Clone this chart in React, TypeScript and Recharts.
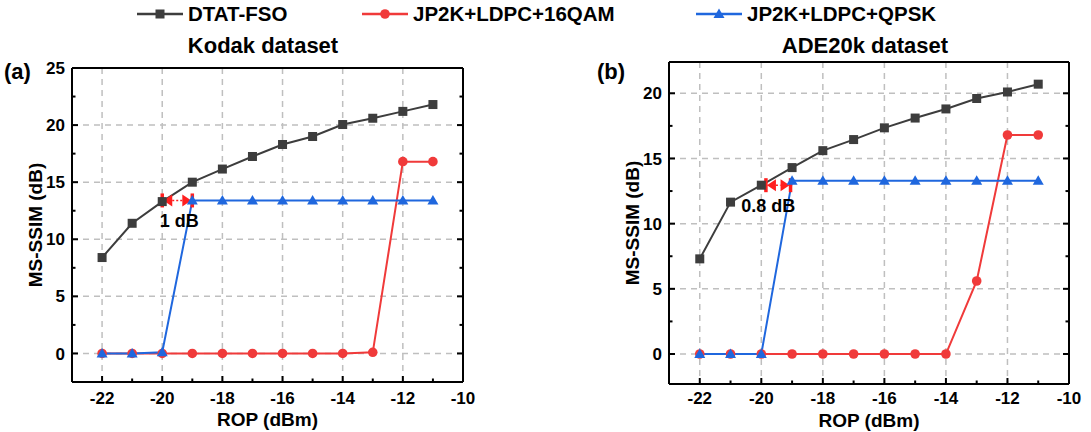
import React from 'react';
import { LineChart, Line, XAxis, YAxis, CartesianGrid, ReferenceLine, Legend } from 'recharts';

// ROP values (dBm) shared by both panels
const rop = [-22, -21, -20, -19, -18, -17, -16, -15, -14, -13, -12, -11];

// Kodak dataset, MS-SSIM (dB)
const kodakDtat = [8.4, 11.4, 13.3, 15.0, 16.15, 17.25, 18.3, 19.0, 20.05, 20.6, 21.2, 21.8];
const kodak16qam = [0, 0, 0, 0, 0, 0, 0, 0, 0, 0.1, 16.8, 16.8];
const kodakQpsk = [0, 0, 0.1, 13.4, 13.4, 13.4, 13.4, 13.4, 13.4, 13.4, 13.4, 13.4];

// ADE20k dataset, MS-SSIM (dB)
const adeDtat = [7.3, 11.65, 12.95, 14.3, 15.6, 16.45, 17.35, 18.1, 18.8, 19.6, 20.1, 20.7];
const ade16qam = [0, 0, 0, 0, 0, 0, 0, 0, 0, 5.6, 16.8, 16.8];
const adeQpsk = [0, 0, 0, 13.3, 13.3, 13.3, 13.3, 13.3, 13.3, 13.3, 13.3, 13.3];

// ticks
const xTicks = [-22, -21, -20, -19, -18, -17, -16, -15, -14, -13, -12, -11, -10];
const xGrid = [-22, -20, -18, -16, -14, -12];
const kodakYTicks = [0, 2.5, 5, 7.5, 10, 12.5, 15, 17.5, 20, 22.5, 25];
const kodakYGrid = [0, 5, 10, 15, 20];
const adeYTicks = [0, 2.5, 5, 7.5, 10, 12.5, 15, 17.5, 20];
const adeYGrid = [0, 5, 10, 15, 20];

const seriesNames = ['DTAT-FSO', 'JP2K+LDPC+16QAM', 'JP2K+LDPC+QPSK'];
const seriesKeys = ['dtat', 'qam', 'qpsk'];
const seriesColors = ['#3d3d3d', '#f03a3a', '#1f67de'];
const seriesMarkers = ['square', 'circle', 'triangle'];

const FONT = '"Liberation Sans", Arial, Helvetica, sans-serif';

const kodakRows = rop.map((x, i) => ({ rop: x, dtat: kodakDtat[i], qam: kodak16qam[i], qpsk: kodakQpsk[i] }));
const adeRows = rop.map((x, i) => ({ rop: x, dtat: adeDtat[i], qam: ade16qam[i], qpsk: adeQpsk[i] }));

function marker(type: string, cx: number, cy: number, color: string, key?: any) {
  if (type === 'square') {
    return <rect key={key} x={cx - 4.5} y={cy - 4.5} width={9} height={9} fill={color} />;
  }
  if (type === 'circle') {
    return <circle key={key} cx={cx} cy={cy} r={4.8} fill={color} />;
  }
  return (
    <polygon
      key={key}
      points={`${cx},${cy - 5.5} ${cx + 5.5},${cy + 4} ${cx - 5.5},${cy + 4}`}
      fill={color}
    />
  );
}

const tickText = { fontFamily: FONT, fontSize: 17, fontWeight: 700, fill: '#000' };

const makeBottomTick = (labelDy: number) => (p: any) => {
  const v = p.payload.value;
  const major = v % 2 === 0;
  return (
    <g>
      <line x1={p.x} y1={p.y} x2={p.x} y2={p.y - (major ? 6 : 3.5)} stroke="#000" strokeWidth={2} />
      {major && (
        <text x={p.x} y={p.y + labelDy} textAnchor="middle" style={tickText}>
          {v}
        </text>
      )}
    </g>
  );
};

const TopTick = (p: any) => {
  const v = p.payload.value;
  const major = v % 2 === 0;
  return <line x1={p.x} y1={p.y} x2={p.x} y2={p.y + (major ? 6 : 3.5)} stroke="#000" strokeWidth={2} />;
};

const LeftTick = (p: any) => {
  const v = p.payload.value;
  const major = v % 5 === 0;
  return (
    <g>
      <line x1={p.x} y1={p.y} x2={p.x + (major ? 6 : 3.5)} y2={p.y} stroke="#000" strokeWidth={2} />
      {major && (
        <text x={p.x - 7} y={p.y} dy="0.36em" textAnchor="end" style={tickText}>
          {v}
        </text>
      )}
    </g>
  );
};

const RightTick = (p: any) => {
  const v = p.payload.value;
  const major = v % 5 === 0;
  return <line x1={p.x} y1={p.y} x2={p.x - (major ? 6 : 3.5)} y2={p.y} stroke="#000" strokeWidth={2} />;
};

const arrowShape = (text: string, dx: number) => (p: any) => {
  const x1 = Number(p.x1);
  const x2 = Number(p.x2);
  const y = Number(p.y1);
  const red = '#ff1f1f';
  return (
    <g>
      <line x1={x1} y1={y - 7} x2={x1} y2={y + 7} stroke={red} strokeWidth={3.5} />
      <line x1={x2} y1={y - 7} x2={x2} y2={y + 7} stroke={red} strokeWidth={3.5} />
      <polygon points={`${x1 + 1},${y} ${x1 + 10},${y - 6} ${x1 + 10},${y + 6}`} fill={red} />
      <polygon points={`${x2 - 1},${y} ${x2 - 10},${y - 6} ${x2 - 10},${y + 6}`} fill={red} />
      <line x1={x1 + 10} y1={y} x2={x2 - 10} y2={y} stroke={red} strokeWidth={1.5} strokeDasharray="2 2" />
      <text
        x={(x1 + x2) / 2 + dx}
        y={y + 20}
        dy="0.36em"
        textAnchor="middle"
        style={{ fontFamily: FONT, fontSize: 18, fontWeight: 700, fill: '#000' }}
      >
        {text}
      </text>
    </g>
  );
};

const legendItemWidths = [225, 334, 260];

const renderLegend = (props: any) => {
  const payload = props.payload || [];
  return (
    <div style={{ display: 'flex', paddingLeft: 137, height: 28, alignItems: 'center' }}>
      {payload.map((e: any, i: number) => {
        const idx = seriesNames.indexOf(e.value);
        return (
          <div key={e.value} style={{ width: legendItemWidths[i], display: 'flex', alignItems: 'center' }}>
            <svg width={48} height={16} style={{ marginRight: 3 }}>
              <line x1={0} y1={8} x2={46} y2={8} stroke={seriesColors[idx]} strokeWidth={2.5} />
              {marker(seriesMarkers[idx], 23, 8, seriesColors[idx])}
            </svg>
            <span style={{ fontFamily: FONT, fontSize: 20.5, fontWeight: 700, color: '#000' }}>{e.value}</span>
          </div>
        );
      })}
    </div>
  );
};

interface PanelProps {
  rows: any[];
  width: number;
  margin: { top: number; right: number; bottom: number; left: number };
  xHeight: number;
  xLabelOffset: number;
  xTickDy: number;
  yDomain: number[];
  yTicks: number[];
  yGrid: number[];
  ann: { x1: number; x2: number; y: number; text: string; dx: number };
  showLegend?: boolean;
}

function Panel({ rows, width, margin, xHeight, xLabelOffset, xTickDy, yDomain, yTicks, yGrid, ann, showLegend }: PanelProps) {
  const axisLine = { stroke: '#000', strokeWidth: 2 };
  const labelStyle = { fontFamily: FONT, fontSize: 19, fontWeight: 700, fill: '#000' };
  return (
    <LineChart width={width} height={432} data={rows} margin={margin}>
      <CartesianGrid
        stroke="#bfbfbf"
        strokeWidth={1.5}
        strokeDasharray="6 5"
        verticalValues={xGrid}
        horizontalValues={yGrid}
      />
      <XAxis
        dataKey="rop"
        type="number"
        domain={[-23, -10]}
        allowDataOverflow
        ticks={xTicks}
        interval={0}
        tickSize={0}
        tickMargin={0}
        tickLine={false}
        axisLine={axisLine}
        tick={makeBottomTick(xTickDy)}
        height={xHeight}
        label={{ value: 'ROP (dBm)', position: 'insideBottom', offset: xLabelOffset, style: labelStyle }}
      />
      <XAxis
        xAxisId="top"
        orientation="top"
        type="number"
        domain={[-23, -10]}
        allowDataOverflow
        ticks={xTicks}
        interval={0}
        tickSize={0}
        tickMargin={0}
        tickLine={false}
        axisLine={axisLine}
        tick={TopTick}
        height={1}
      />
      <YAxis
        type="number"
        domain={yDomain}
        allowDataOverflow
        ticks={yTicks}
        interval={0}
        tickSize={0}
        tickMargin={0}
        tickLine={false}
        axisLine={axisLine}
        tick={LeftTick}
        width={60}
        label={{
          value: 'MS-SSIM (dB)',
          angle: -90,
          position: 'insideLeft',
          offset: 23,
          style: { ...labelStyle, textAnchor: 'middle' },
        }}
      />
      <YAxis
        yAxisId="right"
        orientation="right"
        type="number"
        domain={yDomain}
        allowDataOverflow
        ticks={yTicks}
        interval={0}
        tickSize={0}
        tickMargin={0}
        tickLine={false}
        axisLine={axisLine}
        tick={RightTick}
        width={1}
      />
      {seriesKeys.map((k, i) => (
        <Line
          key={k}
          dataKey={k}
          name={seriesNames[i]}
          stroke={seriesColors[i]}
          strokeWidth={2}
          type="linear"
          isAnimationActive={false}
          dot={(p: any) => marker(seriesMarkers[i], p.cx, p.cy, seriesColors[i], p.index)}
          activeDot={false}
        />
      ))}
      <ReferenceLine
        segment={[
          { x: ann.x1, y: ann.y },
          { x: ann.x2, y: ann.y },
        ]}
        stroke="#ff1f1f"
        shape={arrowShape(ann.text, ann.dx)}
      />
      {showLegend && (
        <Legend
          layout="horizontal"
          verticalAlign="middle"
          align="center"
          content={renderLegend}
          wrapperStyle={{ left: 0, top: 0, width: 1091, height: 28 }}
        />
      )}
    </LineChart>
  );
}

const titleStyle: React.CSSProperties = {
  position: 'absolute',
  fontFamily: FONT,
  fontSize: 22,
  fontWeight: 700,
  color: '#000',
  whiteSpace: 'nowrap',
  lineHeight: '26px',
};

export default function App() {
  return (
    <div style={{ position: 'absolute', left: 0, top: 0, width: 1091, height: 432, background: '#fff' }}>
      <div style={{ position: 'absolute', left: 0, top: 0 }}>
        <Panel
          rows={kodakRows}
          width={545}
          margin={{ top: 67, right: 81, bottom: 0, left: 12 }}
          xHeight={50}
          xLabelOffset={6}
          xTickDy={22}
          yDomain={[-2.5, 25]}
          yTicks={kodakYTicks}
          yGrid={kodakYGrid}
          ann={{ x1: -20, x2: -19, y: 13.4, text: '1 dB', dx: 2 }}
          showLegend
        />
      </div>
      <div style={{ position: 'absolute', left: 545, top: 0 }}>
        <Panel
          rows={adeRows}
          width={546}
          margin={{ top: 61, right: 21, bottom: 0, left: 64 }}
          xHeight={48}
          xLabelOffset={5}
          xTickDy={20}
          yDomain={[-2.3, 22.4]}
          yTicks={adeYTicks}
          yGrid={adeYGrid}
          ann={{ x1: -19.85, x2: -19.05, y: 12.95, text: '0.8 dB', dx: -10 }}
        />
      </div>
      <div style={{ ...titleStyle, left: 263, top: 33, transform: 'translateX(-50%)' }}>Kodak dataset</div>
      <div style={{ ...titleStyle, left: 865, top: 33, transform: 'translateX(-50%)' }}>ADE20k dataset</div>
      <div style={{ ...titleStyle, left: 4, top: 59 }}>(a)</div>
      <div style={{ ...titleStyle, left: 597, top: 59 }}>(b)</div>
    </div>
  );
}
